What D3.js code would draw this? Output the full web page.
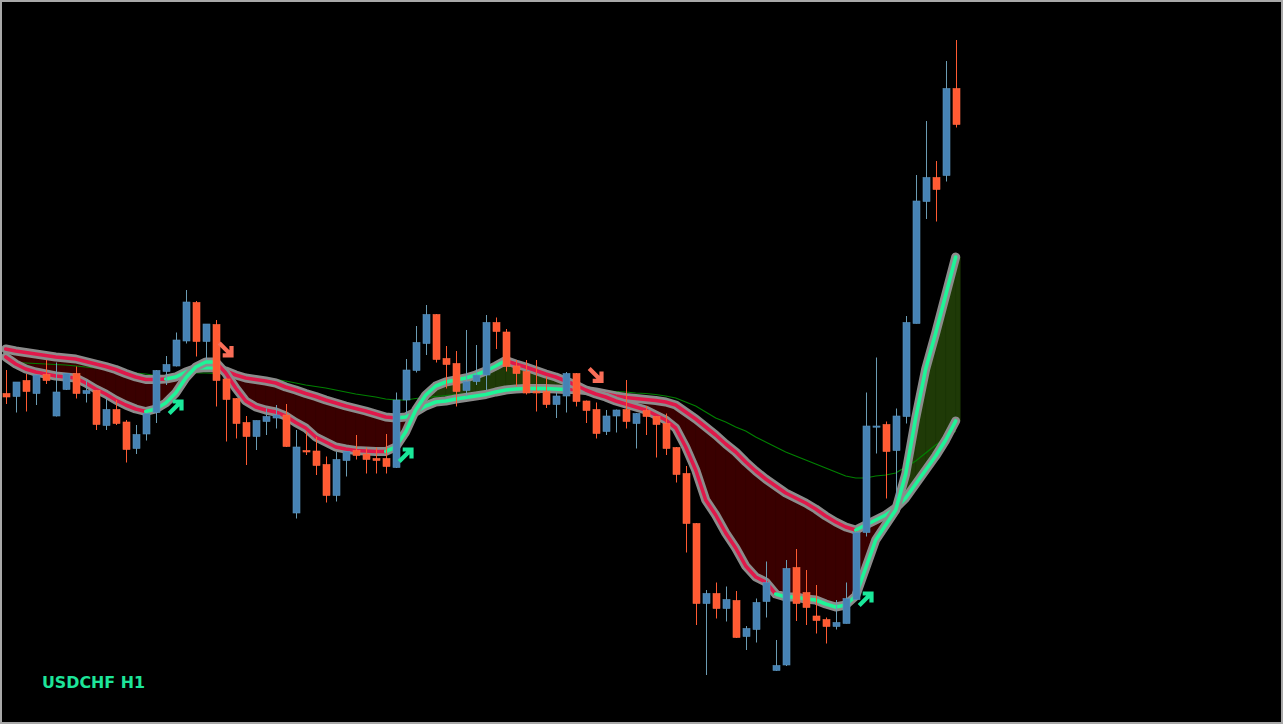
<!DOCTYPE html>
<html>
<head>
<meta charset="utf-8">
<script src="https://cdn.jsdelivr.net/npm/d3@7"></script>
<style>
html,body{margin:0;padding:0;background:#000;overflow:hidden}
svg{display:block}
</style>
</head>
<body>
<svg id="chart" width="1283" height="724"></svg>
<script>
// ---------------- DATA (USDCHF, H1) ----------------
const symbolLabel = "USDCHF H1";

const open = [0.90013,0.90007,0.90039,0.90013,0.90051,0.89968,0.90021,0.90053,0.90013,0.90019,
0.89949,0.89981,0.89956,0.89903,0.89932,0.89975,0.90057,0.90068,0.90118,0.90195,
0.90117,0.90151,0.90042,0.90003,0.89955,0.89927,0.89957,0.89964,0.89970,0.89774,
0.89899,0.89898,0.89871,0.89809,0.89879,0.89899,0.89892,0.89883,0.89883,0.89865,
0.90000,0.90059,0.90113,0.90171,0.90083,0.90073,0.90019,0.90037,0.90050,0.90155,
0.90136,0.90068,0.90057,0.90017,0.90017,0.89991,0.90008,0.90053,0.89998,0.89981,
0.89937,0.89968,0.89981,0.89953,0.89979,0.89967,0.89953,0.89905,0.89853,0.89753,
0.89593,0.89613,0.89583,0.89599,0.89527,0.89541,0.89597,0.89459,0.89470,0.89665,
0.89615,0.89568,0.89561,0.89547,0.89553,0.89601,0.89735,0.89946,0.89951,0.89899,
0.89967,0.90153,0.90397,0.90445,0.90449,0.90623];

const high = [0.90060,0.90036,0.90052,0.90051,0.90080,0.90075,0.90054,0.90067,0.90040,0.90020,
0.90005,0.90000,0.89960,0.89950,0.89974,0.90060,0.90088,0.90135,0.90220,0.90198,
0.90152,0.90160,0.90044,0.90004,0.89968,0.89959,0.89983,0.89990,0.89992,0.89940,
0.89937,0.89926,0.89887,0.89897,0.89898,0.89930,0.89905,0.89905,0.89932,0.90015,
0.90082,0.90148,0.90190,0.90172,0.90108,0.90098,0.90140,0.90110,0.90170,0.90165,
0.90142,0.90080,0.90080,0.90080,0.90047,0.90016,0.90056,0.90054,0.89999,0.89995,
0.89980,0.89981,0.90040,0.89974,0.89988,0.89968,0.89973,0.89906,0.89868,0.89754,
0.89620,0.89635,0.89627,0.89618,0.89548,0.89603,0.89677,0.89520,0.89680,0.89702,
0.89660,0.89630,0.89565,0.89600,0.89635,0.89736,0.90015,0.90085,0.89957,0.89983,
0.90168,0.90450,0.90558,0.90478,0.90678,0.90720];

const low = [0.89992,0.89975,0.89977,0.89990,0.90032,0.89967,0.90020,0.90003,0.89995,0.89940,
0.89940,0.89950,0.89875,0.89892,0.89919,0.89954,0.90030,0.90067,0.90113,0.90087,
0.90080,0.89987,0.89917,0.89923,0.89870,0.89900,0.89930,0.89943,0.89906,0.89763,
0.89890,0.89850,0.89795,0.89797,0.89847,0.89881,0.89853,0.89853,0.89853,0.89864,
0.89970,0.90055,0.90090,0.90075,0.90023,0.89987,0.90007,0.90030,0.90020,0.90102,
0.90057,0.90027,0.90011,0.89977,0.89984,0.89964,0.89975,0.89987,0.89954,0.89923,
0.89930,0.89935,0.89943,0.89903,0.89930,0.89885,0.89890,0.89835,0.89695,0.89550,
0.89450,0.89563,0.89557,0.89524,0.89500,0.89515,0.89565,0.89458,0.89468,0.89558,
0.89550,0.89533,0.89513,0.89541,0.89553,0.89601,0.89727,0.89893,0.89803,0.89803,
0.89953,0.90153,0.90362,0.90357,0.90437,0.90545];

const close = [0.90006,0.90036,0.90017,0.90050,0.90039,0.90016,0.90053,0.90013,0.90019,0.89951,
0.89981,0.89953,0.89901,0.89931,0.89973,0.90059,0.90071,0.90120,0.90196,0.90117,
0.90152,0.90039,0.90001,0.89953,0.89927,0.89959,0.89967,0.89970,0.89907,0.89906,
0.89896,0.89869,0.89809,0.89881,0.89897,0.89889,0.89881,0.89879,0.89867,0.90000,
0.90060,0.90115,0.90171,0.90081,0.90071,0.90017,0.90037,0.90050,0.90155,0.90137,
0.90067,0.90053,0.90014,0.90014,0.89991,0.90008,0.90053,0.89997,0.89979,0.89933,
0.89968,0.89980,0.89957,0.89973,0.89967,0.89951,0.89903,0.89851,0.89753,0.89593,
0.89613,0.89583,0.89601,0.89525,0.89543,0.89595,0.89635,0.89469,0.89663,0.89593,
0.89585,0.89559,0.89547,0.89555,0.89603,0.89735,0.89948,0.89948,0.89897,0.89968,
0.90155,0.90398,0.90445,0.90421,0.90623,0.90551];

// fast moving average
const fastMA = [0.90086,0.90072,0.90062,0.90056,0.90052,0.90048,0.90046,0.90044,0.90034,0.90022,
0.90012,0.90000,0.89990,0.89982,0.89977,0.89982,0.89994,0.90014,0.90044,0.90066,
0.90076,0.90076,0.90054,0.90024,0.89998,0.89986,0.89980,0.89976,0.89968,0.89955,
0.89944,0.89926,0.89916,0.89906,0.89902,0.89899,0.89898,0.89897,0.89897,0.89906,
0.89936,0.89980,0.90010,0.90028,0.90036,0.90040,0.90044,0.90050,0.90058,0.90068,
0.90079,0.90072,0.90066,0.90059,0.90052,0.90046,0.90038,0.90030,0.90020,0.90012,
0.90006,0.89998,0.89992,0.89986,0.89980,0.89970,0.89960,0.89944,0.89906,0.89860,
0.89800,0.89770,0.89734,0.89704,0.89668,0.89646,0.89636,0.89612,0.89606,0.89606,
0.89602,0.89600,0.89592,0.89586,0.89590,0.89608,0.89664,0.89720,0.89750,0.89780,
0.89852,0.89964,0.90062,0.90134,0.90210,0.90286];

// slow moving average
const slowMA = [0.90102,0.90098,0.90095,0.90092,0.90089,0.90086,0.90084,0.90082,0.90077,0.90072,
0.90067,0.90061,0.90053,0.90046,0.90041,0.90041,0.90042,0.90046,0.90056,0.90063,
0.90065,0.90064,0.90058,0.90050,0.90044,0.90041,0.90038,0.90034,0.90026,0.90020,
0.90013,0.90007,0.90000,0.89994,0.89988,0.89983,0.89978,0.89972,0.89966,0.89964,
0.89966,0.89976,0.89988,0.89996,0.89998,0.90002,0.90005,0.90008,0.90011,0.90016,
0.90020,0.90022,0.90023,0.90023,0.90023,0.90022,0.90021,0.90021,0.90019,0.90016,
0.90012,0.90008,0.90005,0.90003,0.90001,0.89999,0.89996,0.89990,0.89976,0.89962,
0.89946,0.89930,0.89912,0.89896,0.89876,0.89858,0.89842,0.89828,0.89814,0.89804,
0.89794,0.89782,0.89768,0.89756,0.89746,0.89740,0.89750,0.89760,0.89770,0.89784,
0.89804,0.89832,0.89860,0.89888,0.89920,0.89958];

// long moving average (thin line)
const longMA = [0.90076,0.90075,0.90074,0.90073,0.90072,0.90071,0.90070,0.90068,0.90066,0.90064,
0.90062,0.90059,0.90056,0.90054,0.90052,0.90049,0.90049,0.90051,0.90053,0.90054,
0.90054,0.90053,0.90052,0.90050,0.90048,0.90046,0.90044,0.90041,0.90038,0.90034,
0.90030,0.90027,0.90024,0.90020,0.90016,0.90012,0.90009,0.90006,0.90002,0.90000,
0.90000,0.90003,0.90005,0.90007,0.90009,0.90011,0.90013,0.90015,0.90017,0.90019,
0.90021,0.90022,0.90023,0.90023,0.90023,0.90022,0.90022,0.90021,0.90020,0.90019,
0.90018,0.90017,0.90016,0.90014,0.90013,0.90011,0.90008,0.90004,0.89996,0.89988,
0.89976,0.89964,0.89956,0.89946,0.89938,0.89926,0.89916,0.89906,0.89896,0.89888,
0.89880,0.89872,0.89864,0.89856,0.89848,0.89844,0.89844,0.89848,0.89850,0.89854,
0.89866,0.89878,0.89894,0.89910,0.89924,0.89938];

// line colour state per bar (1 = bullish / green, 0 = bearish / red)
const fastTrend = [0,0,0,0,0,0,0,0,0,0,0,0,0,0,0, 1,1,1,1,1,1,1,
0,0,0,0,0,0,0,0,0,0,0,0,0,0,0,0,0, 1,1,1,1,1,1,1,1,1,1,1,1,
0,0,0,0,0,0,0,0,0,0,0,0,0,0,0,0,0,0,0,0,0,0,0,0,0,0,0,
1,1,1,1,1,1,1,1,1,1,1,1,1,1,1,1,1,1];
const slowTrend = [0,0,0,0,0,0,0,0,0,0,0,0,0,0,0,0,0, 1,1,1,1,1,
0,0,0,0,0,0,0,0,0,0,0,0,0,0,0,0,0,0, 1,1,1,1,1,1,1,1,1,1,1,1,1,1,1,1,1,
0,0,0,0,0,0,0,0,0,0,0,0,0,0,0,0,0,0,0,0,0,0,0,0,0,0,0,0,0,
1,1,1,1,1,1,1,1,1,1];

// signal arrows
const buyArrowBars = [17, 40, 86];
const buyArrowPrices = [0.89986, 0.89890, 0.89602];
const sellArrowBars = [22, 59];
const sellArrowPrices = [0.90101, 0.90050];

// ---------------- DRAWING ----------------
const W = 1283, H = 724;
const C = {
  bg: "#000000", frame: "#a8a8a8",
  up: "#4682b4", upWick: "#6b9cb3", down: "#ff5a32", downWick: "#ff5a32",
  bullLine: "#1ef597", bearLine: "#e0184a", halo: "#8c8c8c",
  bullFill: "#1f3a07", bearFill: "#3a0000",
  longMA: "#008000", buyArrow: "#1ae89a", sellArrow: "#fa6e58", label: "#1de59a"
};

const svg = d3.select("#chart");
svg.append("rect").attr("width", W).attr("height", H).attr("fill", C.bg);

const n = open.length;
const x = d3.scaleLinear().domain([0, n - 1]).range([5.7, 955.7]);
const y = d3.scaleLinear().domain([d3.min(low), d3.max(high)]).range([675, 40]);

// ---- fill between fast and slow MA ----
const gFill = svg.append("g");
function poly(pts, color) {
  gFill.append("path").attr("d", "M" + pts.map(p => p.join(",")).join("L") + "Z")
    .attr("fill", color).attr("stroke", color).attr("stroke-width", 0.6);
}
for (let i = 1; i < n; i++) {
  const x0 = x(i - 1), x1 = x(i);
  const f0 = y(fastMA[i - 1]), f1 = y(fastMA[i]);
  const s0 = y(slowMA[i - 1]), s1 = y(slowMA[i]);
  const d0 = fastMA[i - 1] - slowMA[i - 1], d1 = fastMA[i] - slowMA[i];
  if (d0 * d1 >= 0) {
    const col = (d0 + d1) >= 0 ? C.bullFill : C.bearFill;
    poly([[x0, f0], [x1, f1], [x1, s1], [x0, s0]], col);
  } else {
    const t = d0 / (d0 - d1);
    const xm = x0 + t * (x1 - x0), ym = f0 + t * (f1 - f0);
    poly([[x0, f0], [xm, ym], [x0, s0]], d0 > 0 ? C.bullFill : C.bearFill);
    poly([[xm, ym], [x1, f1], [x1, s1]], d1 > 0 ? C.bullFill : C.bearFill);
  }
}
{ // last bar histogram half-width
  const xl = x(n - 1), xr = xl + 4.5;
  const col = fastMA[n - 1] >= slowMA[n - 1] ? C.bullFill : C.bearFill;
  poly([[xl, y(fastMA[n - 1])], [xr, y(fastMA[n - 1])], [xr, y(slowMA[n - 1])], [xl, y(slowMA[n - 1])]], col);
}

// ---- long MA thin line ----
svg.append("path")
  .attr("d", d3.line().x((d, i) => x(i)).y(d => y(d))(longMA))
  .attr("fill", "none").attr("stroke", C.longMA).attr("stroke-width", 1.2);

// ---- band lines with grey halo and trend colouring ----
function drawTrendLine(vals, trend) {
  const g = svg.append("g");
  const pts = vals.map((v, i) => [x(i), y(v)]);
  g.append("path").attr("d", d3.line()(pts))
    .attr("fill", "none").attr("stroke", C.halo).attr("stroke-width", 9)
    .attr("stroke-linejoin", "round").attr("stroke-linecap", "round");
  let start = 0;
  for (let i = 1; i < n; i++) {
    const last = (i === n - 1) || trend[i + 1] !== trend[i];
    if (last) {
      const seg = pts.slice(start, i + 1);
      g.append("path").attr("d", d3.line()(seg))
        .attr("fill", "none").attr("stroke", trend[i] ? C.bullLine : C.bearLine)
        .attr("stroke-width", 3.6).attr("stroke-linejoin", "round").attr("stroke-linecap", "round");
      start = i;
    }
  }
}
drawTrendLine(slowMA, slowTrend);
drawTrendLine(fastMA, fastTrend);

// ---- candles ----
const gC = svg.append("g");
for (let i = 0; i < n; i++) {
  const isUp = close[i] >= open[i];
  const cx = Math.round(x(i));
  gC.append("line")
    .attr("x1", cx + 0.5).attr("x2", cx + 0.5)
    .attr("y1", y(high[i])).attr("y2", y(low[i]))
    .attr("stroke", isUp ? C.upWick : C.downWick).attr("stroke-width", 1);
  const top = Math.min(y(open[i]), y(close[i]));
  const h = Math.max(1.2, Math.abs(y(open[i]) - y(close[i])));
  gC.append("rect")
    .attr("x", cx - 3).attr("y", top).attr("width", 7).attr("height", h)
    .attr("fill", isUp ? C.up : C.down)
    .attr("stroke", isUp ? "#5a93bd" : "#ff6a44").attr("stroke-width", 0.6);
}

// ---- arrows ----
const gA = svg.append("g").attr("fill", "none").attr("stroke-width", 4.2).attr("stroke-linecap", "butt");
buyArrowBars.forEach((b, j) => {
  const cx = x(b), cy = y(buyArrowPrices[j]);
  gA.append("path").attr("transform", `translate(${cx},${cy})`)
    .attr("d", "M-6.5,6.5L5,-5M-3,-5.5L5.8,-5.5L5.8,3.5").attr("stroke", C.buyArrow);
});
sellArrowBars.forEach((b, j) => {
  const cx = x(b), cy = y(sellArrowPrices[j]);
  gA.append("path").attr("transform", `translate(${cx},${cy})`)
    .attr("d", "M-6.5,-6.5L5,5M5.8,-3.5L5.8,5.8L-3,5.8").attr("stroke", C.sellArrow);
});

// ---- label ----
svg.append("text").attr("x", 42).attr("y", 688)
  .attr("font-family", "'DejaVu Sans', Verdana, sans-serif").attr("font-weight", "bold")
  .attr("font-size", 15.5).attr("fill", C.label)
  .attr("textLength", 103).attr("lengthAdjust", "spacingAndGlyphs")
  .text(symbolLabel);

// ---- frame ----
svg.append("rect").attr("x", 1).attr("y", 1).attr("width", W - 2).attr("height", H - 2)
  .attr("fill", "none").attr("stroke", C.frame).attr("stroke-width", 2);
</script>
</body>
</html>
